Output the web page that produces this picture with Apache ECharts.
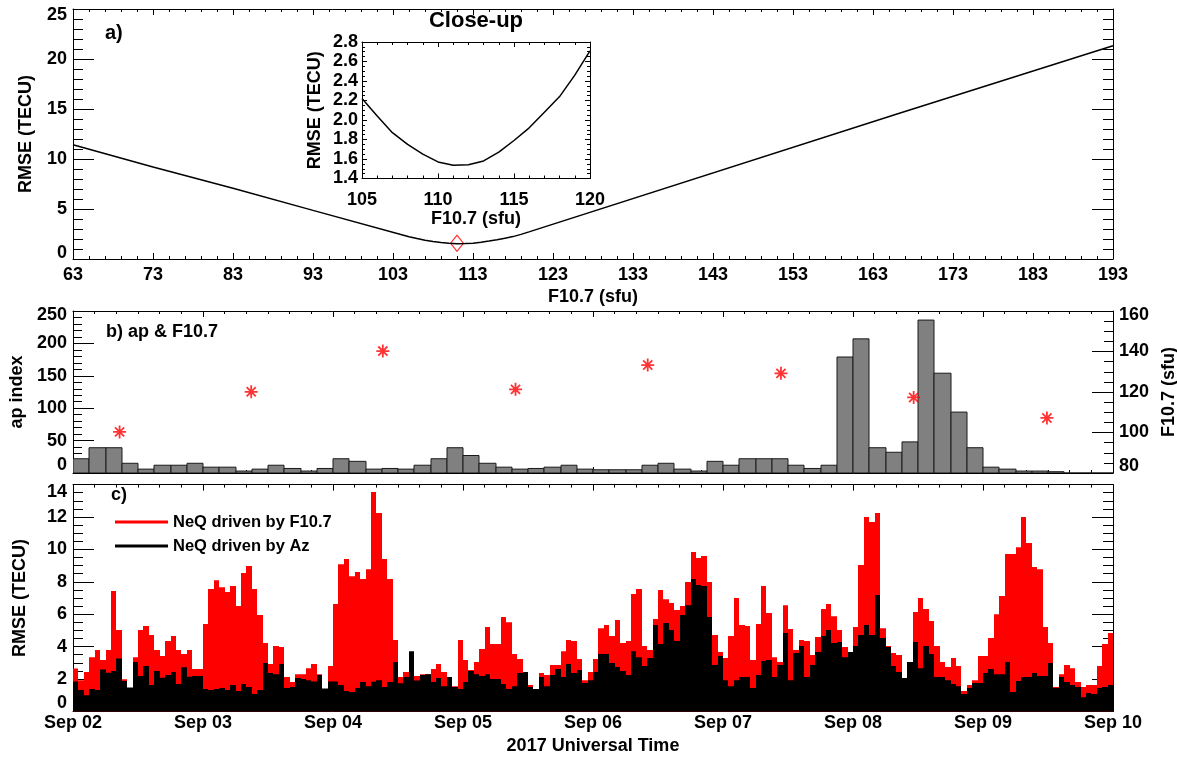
<!DOCTYPE html>
<html lang="en">
<head>
<meta charset="UTF-8">
<title>RMSE vs F10.7, ap index and NeQ RMSE</title>
<script src="https://cdn.jsdelivr.net/npm/echarts@6.0.0/dist/echarts.min.js"></script>
<style>
  html, body { margin: 0; padding: 0; background: #fff; }
  #chart { width: 1177px; height: 762px; }
</style>
</head>
<body>
<div id="chart"></div>
<script>
// ---- panel a: RMSE of the F10.7 scan ----
const f107Left = [63, 73, 83, 93];
const rmseLeft = [11.43, 9.2, 7.08, 4.86];
const f107Close = [105, 106, 107, 108, 109, 110, 111, 112, 113, 114, 115, 116, 117, 118, 119, 120];
const rmseClose = [2.22, 2.04, 1.87, 1.75, 1.65, 1.57, 1.535, 1.54, 1.58, 1.67, 1.79, 1.92, 2.08, 2.24, 2.46, 2.71];
const f107Right = [166, 193];
const rmseRight = [14.5, 21.33];
const bestF107 = 111;
const bestRmse = 1.58;

// ---- panel b: 3-hourly ap and daily F10.7 ----
const apIndex = [
  22, 39, 39, 15, 6, 12, 12, 15,
  9, 9, 3, 6, 12, 7, 3, 7,
  22, 18, 6, 7, 6, 12, 22, 39,
  27, 15, 9, 6, 7, 9, 12, 6,
  5, 5, 5, 12, 15, 6, 3, 18,
  12, 22, 22, 22, 12, 7, 12, 179,
  207, 39, 32, 48, 236, 154, 94, 39,
  9, 6, 3, 3, 2, 0, 0, 0
];
const f107Hours = [8.6, 32.9, 57.2, 81.7, 106.1, 130.7, 155.2, 179.8];
const f107Daily = [100.3, 120.1, 140.2, 121.3, 133.3, 129.2, 117.3, 107.2];

// ---- panel c: hourly RMSE of the two NeQ runs ----
const rmseF107 = [
  2.65, 1.93, 2.43, 3.35, 3.79, 3.17, 3.79, 7.43, 5.02, 1.98, 1.45, 3.35,
  5.02, 5.27, 4.71, 3.79, 3.42, 4.34, 4.65, 3.79, 3.54, 3.79, 2.61, 2.61,
  5.39, 7.55, 8.1, 7.67, 7.37, 7.74, 6.5, 8.54, 8.97, 7.55, 5.95, 4.22,
  2.92, 4.03, 3.97, 2.12, 1.81, 2.3, 2.3, 2.67, 2.92, 2.3, 1.2, 2.8,
  6.63, 9.09, 9.4, 8.35, 8.6, 8.17, 8.78, 13.54, 12.24, 9.4, 8.17, 4.4,
  2.12, 2.43, 2.0, 2.18, 2.3, 2.3, 2.61, 2.92, 2.43, 1.9, 1.56, 4.4,
  3.17, 2.55, 3.05, 3.85, 5.21, 4.16, 4.16, 5.82, 5.51, 3.54, 3.23, 2.43,
  1.63, 1.2, 2.37, 2.24, 2.86, 2.86, 3.72, 4.4, 4.34, 3.23, 1.93, 2.43,
  3.23, 5.14, 5.33, 4.65, 5.64, 4.22, 4.34, 7.24, 7.55, 4.03, 3.79, 5.7,
  7.49, 6.93, 6.69, 6.26, 6.5, 7.98, 9.84, 9.47, 9.59, 7.98, 4.71, 3.66,
  3.29, 4.65, 7.0, 5.33, 5.27, 3.17, 5.39, 7.74, 6.07, 3.35, 3.05, 6.56,
  5.08, 3.79, 4.4, 4.34, 3.48, 4.59, 6.32, 6.63, 5.88, 5.02, 3.97, 3.3,
  5.21, 9.03, 12.0, 11.69, 12.24, 5.14, 4.03, 3.6, 3.48, 1.8, 2.6, 6.13,
  7.0, 6.32, 5.58, 4.03, 3.05, 2.74, 3.29, 2.8, 1.26, 1.63, 1.93, 3.42,
  3.42, 4.53, 6.0, 7.12, 9.71, 9.71, 10.14, 12.0, 10.39, 8.91, 8.78, 5.21,
  4.22, 1.5, 2.3, 2.86, 2.67, 1.81, 1.5, 1.63, 1.63, 2.8, 4.16, 4.84
];
const rmseAz = [
  1.85, 1.32, 1.0, 1.38, 1.32, 2.59, 2.39, 2.49, 3.27, 1.87, 1.48, 3.05,
  2.18, 2.8, 1.63, 2.49, 2.08, 2.24, 2.43, 1.69, 2.72, 2.14, 2.18, 2.18,
  1.38, 1.32, 1.38, 1.44, 1.32, 1.63, 1.26, 1.69, 1.5, 1.07, 1.32, 2.98,
  2.37, 2.3, 2.92, 1.44, 1.5, 2.06, 2.0, 1.93, 1.85, 2.24, 1.42, 1.85,
  1.85, 1.63, 1.26, 1.19, 1.44, 1.81, 1.56, 1.83, 1.93, 1.5, 1.81, 3.05,
  1.73, 2.12, 3.72, 1.91, 2.24, 2.3, 1.81, 2.06, 1.56, 2.12, 1.5, 1.38,
  1.81, 2.49, 2.3, 2.18, 2.3, 2.0, 2.0, 1.69, 1.38, 1.56, 2.37, 2.43,
  1.5, 1.38, 2.12, 1.56, 2.24, 2.61, 2.12, 2.92, 2.37, 2.55, 1.75, 1.93,
  2.43, 3.54, 3.54, 2.98, 2.74, 2.49, 2.24, 3.72, 3.35, 2.8, 3.29, 5.33,
  4.16, 5.45, 5.02, 4.34, 5.95, 6.56, 8.17, 7.8, 7.74, 5.82, 2.86, 3.42,
  1.93, 1.56, 1.93, 2.12, 2.12, 1.44, 2.24, 3.11, 3.17, 2.12, 2.86, 4.84,
  1.93, 3.6, 4.03, 2.12, 2.86, 3.66, 4.65, 5.02, 4.22, 4.28, 3.35, 3.66,
  4.03, 4.71, 5.33, 4.71, 7.18, 4.53, 3.97, 2.8, 2.43, 2.06, 3.05, 4.28,
  2.67, 4.03, 3.54, 2.12, 2.12, 1.93, 1.69, 1.56, 1.07, 1.44, 1.75, 1.75,
  2.37, 2.61, 2.3, 2.3, 3.05, 1.19, 1.87, 2.12, 2.12, 2.37, 2.18, 2.18,
  2.98, 1.44, 2.12, 1.81, 1.63, 1.5, 0.88, 1.13, 1.07, 1.44, 1.5, 1.63
];
const dayLabels = ['Sep 02', 'Sep 03', 'Sep 04', 'Sep 05', 'Sep 06', 'Sep 07', 'Sep 08', 'Sep 09', 'Sep 10'];
const legendF107 = 'NeQ driven by F10.7';
const legendAz = 'NeQ driven by Az';

const FONT = '"Liberation Sans", Arial, Helvetica, sans-serif';
const BLACK = '#000000';
const RED = '#ff0000';
const labelFont = { color: BLACK, fontSize: 18, fontWeight: 'bold', fontFamily: FONT };

// pairs for the line plots
const toPairs = (xs, ys) => xs.map((x, i) => [x, ys[i]]);
const scanData = toPairs(f107Left.concat(f107Close, f107Right), rmseLeft.concat(rmseClose, rmseRight));
const closeData = toPairs(f107Close, rmseClose);

// top/bottom labels sit inside the frame, like the IDL plot
function edgeLabel(min, max, hiPad, loPad, fmt) {
  const show = fmt || (v => String(v));
  return {
    formatter: v => {
      if (Math.abs(v - max) < 1e-6) return '{hi|' + show(v) + '}';
      if (Math.abs(v - min) < 1e-6) return '{lo|' + show(v) + '}';
      return show(v);
    },
    rich: {
      hi: Object.assign({ padding: [hiPad, 0, 0, 0] }, labelFont),
      lo: Object.assign({ padding: [0, 0, loPad, 0] }, labelFont)
    }
  };
}

// one side of a boxed panel, ticks pointing inward
function side(o) {
  return {
    type: 'value',
    gridIndex: o.grid,
    position: o.position,
    min: o.min,
    max: o.max,
    interval: o.interval,
    axisLine: { show: true, onZero: false, lineStyle: { color: BLACK, width: 1 } },
    axisTick: { show: true, inside: true, length: o.tick, lineStyle: { color: BLACK, width: 1 } },
    minorTick: { show: !!o.minor, splitNumber: o.minor || 5, length: o.minorLen, lineStyle: { color: BLACK, width: 1 } },
    splitLine: { show: false },
    minorSplitLine: { show: false },
    axisLabel: o.label
      ? Object.assign({ show: true, margin: o.margin, showMinLabel: true, showMaxLabel: true, hideOverlap: false }, labelFont, o.label)
      : { show: false },
    name: o.name || '',
    nameLocation: 'middle',
    nameGap: o.nameGap || 0,
    nameRotate: o.nameRotate,
    nameTextStyle: labelFont
  };
}

// step bars: each value covers [x, x + width) on the time axis
function histogram(width, fill, stroke) {
  return function (params, api) {
    const top = api.coord([api.value(0), api.value(1)]);
    const base = api.coord([api.value(0) + width, 0]);
    const x0 = Math.round(top[0]);
    const x1 = Math.round(base[0]);
    return {
      type: 'rect',
      shape: { x: x0, y: top[1], width: x1 - x0, height: base[1] - top[1] },
      style: stroke ? { fill: fill, stroke: stroke, lineWidth: 1 } : { fill: fill }
    };
  };
}

const dayFmt = v => dayLabels[Math.round(v / 24)];

const chart = echarts.init(document.getElementById('chart'));
chart.setOption({
  animation: false,
  backgroundColor: '#ffffff',
  textStyle: { fontFamily: FONT },
  grid: [
    { left: 73, top: 9, width: 1040, height: 250, containLabel: false, outerBoundsMode: 'none' },
    { left: 362, top: 42, width: 228, height: 136.5, containLabel: false, outerBoundsMode: 'none' },
    { left: 73, top: 311, width: 1040, height: 162, containLabel: false, outerBoundsMode: 'none' },
    { left: 73, top: 484.6, width: 1040, height: 226.8, containLabel: false, outerBoundsMode: 'none' }
  ],
  xAxis: [
    side({ grid: 0, position: 'bottom', min: 63, max: 193, interval: 10, tick: 6, minor: 5, minorLen: 3,
      label: {}, margin: 7, name: 'F10.7 (sfu)', nameGap: 29 }),
    side({ grid: 0, position: 'top', min: 63, max: 193, interval: 10, tick: 6, minor: 5, minorLen: 3 }),
    side({ grid: 1, position: 'bottom', min: 105, max: 120, interval: 5, tick: 5, minor: 5, minorLen: 3,
      label: {}, margin: 13, name: 'F10.7 (sfu)', nameGap: 31 }),
    side({ grid: 1, position: 'top', min: 105, max: 120, interval: 5, tick: 5, minor: 5, minorLen: 3 }),
    side({ grid: 2, position: 'bottom', min: 0, max: 192, interval: 24, tick: 6, minor: 6, minorLen: 3 }),
    side({ grid: 2, position: 'top', min: 0, max: 192, interval: 24, tick: 6, minor: 6, minorLen: 3 }),
    side({ grid: 3, position: 'bottom', min: 0, max: 192, interval: 24, tick: 6, minor: 6, minorLen: 3,
      label: { formatter: dayFmt }, margin: 3, name: '2017 Universal Time', nameGap: 26 }),
    side({ grid: 3, position: 'top', min: 0, max: 192, interval: 24, tick: 6, minor: 6, minorLen: 3 })
  ],
  yAxis: [
    side({ grid: 0, position: 'left', min: 0, max: 25, interval: 5, tick: 21, minor: 5, minorLen: 10,
      label: edgeLabel(0, 25, 12, 12), margin: 6, name: 'RMSE (TECU)', nameGap: 38, nameRotate: 90 }),
    side({ grid: 0, position: 'right', min: 0, max: 25, interval: 5, tick: 21, minor: 5, minorLen: 10 }),
    // the close-up labels are packed tightly (0.2 steps), so they keep a short line box
    side({ grid: 1, position: 'left', min: 1.4, max: 2.8, interval: 0.2, tick: 5, minor: 4, minorLen: 3,
      label: { formatter: v => v.toFixed(1), lineHeight: 15 }, margin: 4, name: 'RMSE (TECU)', nameGap: 38, nameRotate: 90 }),
    side({ grid: 1, position: 'right', min: 1.4, max: 2.8, interval: 0.2, tick: 5, minor: 4, minorLen: 3 }),
    side({ grid: 2, position: 'left', min: 0, max: 250, interval: 50, tick: 21, minor: 5, minorLen: 9,
      label: edgeLabel(0, 250, 8, 15), margin: 6, name: 'ap index', nameGap: 44, nameRotate: 90 }),
    side({ grid: 2, position: 'right', min: 80, max: 160, interval: 20, tick: 21, minor: 4, minorLen: 9,
      label: edgeLabel(80, 160, 8, 13), margin: 6, name: 'F10.7 (sfu)', nameGap: 40, nameRotate: 90 }),
    side({ grid: 3, position: 'left', min: 0, max: 14, interval: 2, tick: 21, minor: 4, minorLen: 10,
      label: edgeLabel(0, 14, 14, 16), margin: 6, name: 'RMSE (TECU)', nameGap: 44, nameRotate: 90 }),
    side({ grid: 3, position: 'right', min: 0, max: 14, interval: 2, tick: 21, minor: 4, minorLen: 10 })
  ],
  legend: {
    orient: 'vertical',
    left: 110,
    top: 507,
    icon: 'rect',
    itemWidth: 53,
    itemHeight: 3,
    itemGap: 4,
    selectedMode: false,
    textStyle: { color: BLACK, fontSize: 16.5, fontWeight: 'bold', fontFamily: FONT, lineHeight: 20 },
    data: [legendF107, legendAz]
  },
  graphic: [
    { type: 'text', x: 105, y: 33, style: { text: 'a)', font: 'bold 20px ' + FONT, fill: BLACK, align: 'left', verticalAlign: 'middle' } },
    { type: 'text', x: 476, y: 21, style: { text: 'Close-up', font: 'bold 22px ' + FONT, fill: BLACK, align: 'center', verticalAlign: 'middle' } },
    { type: 'text', x: 106, y: 332, style: { text: 'b) ap & F10.7', font: 'bold 18px ' + FONT, fill: BLACK, align: 'left', verticalAlign: 'middle' } },
    { type: 'text', x: 111, y: 495, style: { text: 'c)', font: 'bold 18px ' + FONT, fill: BLACK, align: 'left', verticalAlign: 'middle' } }
  ],
  series: [
    {
      type: 'line', xAxisIndex: 0, yAxisIndex: 0, data: scanData,
      symbol: 'none', silent: true, lineStyle: { color: BLACK, width: 1.5 }
    },
    {
      type: 'scatter', xAxisIndex: 0, yAxisIndex: 0, data: [[bestF107, bestRmse]],
      symbol: 'diamond', symbolSize: [13, 16], silent: true,
      itemStyle: { color: 'rgba(0,0,0,0)', borderColor: RED, borderWidth: 1.2 }
    },
    {
      type: 'line', xAxisIndex: 2, yAxisIndex: 2, data: closeData,
      symbol: 'none', silent: true, lineStyle: { color: BLACK, width: 1.5 }
    },
    {
      type: 'custom', xAxisIndex: 4, yAxisIndex: 4, silent: true, clip: true,
      data: apIndex.map((v, i) => [i * 3, v]),
      renderItem: histogram(3, '#808080', '#1a1a1a')
    },
    {
      type: 'scatter', xAxisIndex: 4, yAxisIndex: 5, silent: true,
      data: toPairs(f107Hours, f107Daily),
      symbol: 'path://M6,0L6,12M0,6L12,6M1.76,1.76L10.24,10.24M10.24,1.76L1.76,10.24',
      symbolSize: 13,
      itemStyle: { color: 'none', borderColor: RED, borderWidth: 1.8 }
    },
    {
      type: 'custom', name: legendF107, xAxisIndex: 6, yAxisIndex: 6, silent: true, clip: true,
      itemStyle: { color: RED },
      data: rmseF107.map((v, i) => [i, v]),
      renderItem: histogram(1, RED)
    },
    {
      type: 'custom', name: legendAz, xAxisIndex: 6, yAxisIndex: 6, silent: true, clip: true,
      itemStyle: { color: BLACK },
      data: rmseAz.map((v, i) => [i, v]),
      renderItem: histogram(1, BLACK)
    }
  ]
});
</script>
</body>
</html>
